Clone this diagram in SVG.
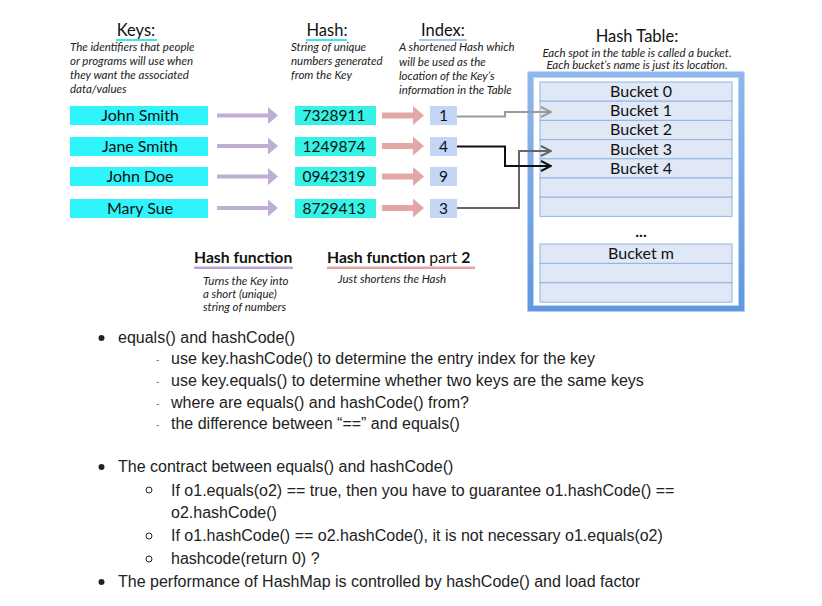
<svg xmlns="http://www.w3.org/2000/svg" width="822" height="606" viewBox="0 0 822 606">
  <defs>
    <style>
      .hd { font-family: Lato, "Noto Sans", sans-serif; font-size: 16.5px; fill: #111; text-anchor: middle; }
      .ds { font-family: Lato, "Noto Sans", sans-serif; font-size: 11.5px; font-style: italic; fill: #222; }
      .bx { font-family: Lato, "Noto Sans", sans-serif; font-size: 16px; fill: #111; text-anchor: middle; }
      .num { font-size: 15.5px; }
      .key { fill: #2ff4fb; }
      .hash { fill: #35f2e6; }
      .idx { fill: #c4d6f8; }
      .cell { fill: #dfe8f4; stroke: #8fb5e4; stroke-width: 1; }
      .fn { font-family: Lato, "Noto Sans", sans-serif; font-size: 15.7px; fill: #111; }
      .bl { font-family: "Liberation Sans", Arial, sans-serif; font-size: 16px; fill: #222; }
      .dash { font-family: "Liberation Sans", Arial, sans-serif; font-size: 10px; fill: #777; }
      .purple { fill: #bfaed4; }
      .pink { fill: #e3a8a6; }
      .link { fill: none; stroke-width: 2; }
    </style>
    <linearGradient id="frameGrad" x1="0" y1="0" x2="0" y2="1">
      <stop offset="0" stop-color="#8fb8ec"/>
      <stop offset="1" stop-color="#5f98de"/>
    </linearGradient>
    <marker id="mGray" viewBox="0 0 12 12" refX="11" refY="6" markerWidth="12" markerHeight="12" markerUnits="userSpaceOnUse" orient="auto">
      <path d="M1,1 L11,6 L1,11" fill="none" stroke="#9a9a9a" stroke-width="2"/>
    </marker>
    <marker id="mBlack" viewBox="0 0 12 12" refX="11" refY="6" markerWidth="12" markerHeight="12" markerUnits="userSpaceOnUse" orient="auto">
      <path d="M1,1 L11,6 L1,11" fill="none" stroke="#111" stroke-width="2"/>
    </marker>
    <marker id="mDark" viewBox="0 0 12 12" refX="11" refY="6" markerWidth="12" markerHeight="12" markerUnits="userSpaceOnUse" orient="auto">
      <path d="M1,1 L11,6 L1,11" fill="none" stroke="#666" stroke-width="2"/>
    </marker>
  </defs>

  <rect width="822" height="606" fill="#ffffff"/>

  <!-- column headings -->
  <g id="keys-heading">
    <text class="hd" x="136" y="36">Keys:</text>
    <rect x="116" y="39" width="41" height="2" fill="#3ee6ea"/>
    <text class="ds" x="70" y="51">The identifiers that people</text>
    <text class="ds" x="70" y="65">or programs will use when</text>
    <text class="ds" x="70" y="79">they want the associated</text>
    <text class="ds" x="70" y="93">data/values</text>
  </g>
  <g id="hash-heading">
    <text class="hd" x="327" y="36">Hash:</text>
    <rect x="306" y="39" width="41" height="2" fill="#3ee6ea"/>
    <text class="ds" x="291" y="51">String of unique</text>
    <text class="ds" x="291" y="65">numbers generated</text>
    <text class="ds" x="291" y="79">from the Key</text>
  </g>
  <g id="index-heading">
    <text class="hd" x="443" y="36">Index:</text>
    <rect x="419" y="39" width="48" height="2" fill="#a9c5f2"/>
    <text class="ds" x="399" y="51">A shortened Hash which</text>
    <text class="ds" x="399" y="66">will be used as the</text>
    <text class="ds" x="399" y="80">location of the Key’s</text>
    <text class="ds" x="399" y="94">information in the Table</text>
  </g>

  <!-- keys -->
  <g id="key-john-smith"><rect class="key" x="70" y="106" width="138" height="19"/><text class="bx" x="140" y="121">John Smith</text></g>
  <g id="key-jane-smith"><rect class="key" x="70" y="137" width="138" height="19"/><text class="bx" x="140" y="152">Jane Smith</text></g>
  <g id="key-john-doe"><rect class="key" x="70" y="167" width="138" height="19"/><text class="bx" x="140" y="182">John Doe</text></g>
  <g id="key-mary-sue"><rect class="key" x="70" y="199" width="138" height="19"/><text class="bx" x="140" y="214">Mary Sue</text></g>

  <!-- hashes -->
  <g id="hash-7328911"><rect class="hash" x="295" y="106" width="81" height="19"/><text class="bx num" x="334" y="121">7328911</text></g>
  <g id="hash-1249874"><rect class="hash" x="295" y="137" width="81" height="19"/><text class="bx num" x="334" y="152">1249874</text></g>
  <g id="hash-0942319"><rect class="hash" x="295" y="167" width="81" height="19"/><text class="bx num" x="334" y="182">0942319</text></g>
  <g id="hash-8729413"><rect class="hash" x="295" y="199" width="81" height="19"/><text class="bx num" x="334" y="214">8729413</text></g>

  <!-- indices -->
  <g id="index-1"><rect class="idx" x="430" y="106" width="27" height="19"/><text class="bx num" x="443.5" y="121">1</text></g>
  <g id="index-4"><rect class="idx" x="430" y="137" width="27" height="19"/><text class="bx num" x="443.5" y="152">4</text></g>
  <g id="index-9"><rect class="idx" x="430" y="167" width="27" height="19"/><text class="bx num" x="443.5" y="182">9</text></g>
  <g id="index-3"><rect class="idx" x="430" y="199" width="27" height="19"/><text class="bx num" x="443.5" y="214">3</text></g>

  <!-- hash table -->
  <g id="hash-table">
    <text class="hd" x="637" y="42" font-size="16">Hash Table:</text>
    <text class="ds" x="637" y="56.5" text-anchor="middle" font-size="10.6">Each spot in the table is called a bucket.</text>
    <text class="ds" x="637" y="69" text-anchor="middle" font-size="10.6">Each bucket’s name is just its location.</text>
    <rect x="530.5" y="74.5" width="211" height="234" fill="#ffffff" stroke="url(#frameGrad)" stroke-width="6"/>
    <rect x="533.5" y="77.5" width="205" height="228" fill="none" stroke="#b8d2f3" stroke-width="1"/>
    <g id="buckets-top">
      <rect class="cell" x="540" y="82" width="192" height="19.2"/>
      <rect class="cell" x="540" y="101.2" width="192" height="19.2"/>
      <rect class="cell" x="540" y="120.4" width="192" height="19.2"/>
      <rect class="cell" x="540" y="139.6" width="192" height="19.2"/>
      <rect class="cell" x="540" y="158.8" width="192" height="19.2"/>
      <rect class="cell" x="540" y="178" width="192" height="19.2"/>
      <rect class="cell" x="540" y="197.2" width="192" height="19.2"/>
      <text class="bx" x="641" y="97">Bucket 0</text>
      <text class="bx" x="641" y="116">Bucket 1</text>
      <text class="bx" x="641" y="135">Bucket 2</text>
      <text class="bx" x="641" y="155">Bucket 3</text>
      <text class="bx" x="641" y="174">Bucket 4</text>
    </g>
    <text class="bx" x="641" y="237" font-size="10" font-weight="bold">...</text>
    <g id="buckets-bottom">
      <rect class="cell" x="540" y="244" width="192" height="19.4"/>
      <rect class="cell" x="540" y="263.4" width="192" height="19.4"/>
      <rect class="cell" x="540" y="282.8" width="192" height="19.4"/>
      <text class="bx" x="641" y="259">Bucket m</text>
    </g>
  </g>

  <!-- connectors -->
  <g id="connectors">
    <!-- key to hash -->
    <polygon class="purple" points="217,113.5 268,113.5 268,107 278,115.5 268,124 268,117.5 217,117.5"/>
    <polygon class="purple" points="217,144 268,144 268,137.5 278,146 268,154.5 268,148 217,148"/>
    <polygon class="purple" points="217,174.5 268,174.5 268,168 278,176.5 268,185 268,178.5 217,178.5"/>
    <polygon class="purple" points="217,206 268,206 268,199.5 278,208 268,216.5 268,210 217,210"/>
    <!-- hash to index -->
    <polygon class="pink" points="382,112.5 413,112.5 413,106 424,115.5 413,125 413,118.5 382,118.5"/>
    <polygon class="pink" points="382,143 413,143 413,136.5 424,146 413,155.5 413,149 382,149"/>
    <polygon class="pink" points="382,173.5 413,173.5 413,167 424,176.5 413,186 413,179.5 382,179.5"/>
    <polygon class="pink" points="382,205 413,205 413,198.5 424,208 413,217.5 413,211 382,211"/>
    <!-- index to bucket -->
    <path class="link" d="M457,116.5 H505 V112 H551" stroke="#9a9a9a" marker-end="url(#mGray)"/>
    <path class="link" d="M457,208 H519 V151 H551" stroke="#666" marker-end="url(#mDark)"/>
    <path class="link" d="M457,146.5 H505 V166 H551" stroke="#111" marker-end="url(#mBlack)"/>
  </g>

  <!-- hash function captions -->
  <g id="hash-function">
    <text class="fn" x="194" y="263" font-weight="bold">Hash function</text>
    <rect x="194" y="266.5" width="99" height="2.5" fill="#b9a6d6"/>
    <text class="ds" x="203" y="285">Turns the Key into</text>
    <text class="ds" x="203" y="298">a short (unique)</text>
    <text class="ds" x="203" y="311">string of numbers</text>
  </g>
  <g id="hash-function-2">
    <text class="fn" x="327" y="263"><tspan font-weight="bold">Hash function</tspan> part <tspan font-weight="bold">2</tspan></text>
    <rect x="327" y="266.5" width="148" height="2.5" fill="#e6a5a5"/>
    <text class="ds" x="338" y="283">Just shortens the Hash</text>
  </g>

  <!-- notes -->
  <g id="notes">
    <circle cx="101.5" cy="338" r="3" fill="#222"/>
    <text class="bl" x="118" y="343">equals() and hashCode()</text>
    <text class="dash" x="156" y="363">-</text>
    <text class="bl" x="171" y="364">use key.hashCode() to determine the entry index for the key</text>
    <text class="dash" x="156" y="385">-</text>
    <text class="bl" x="171" y="386">use key.equals() to determine whether two keys are the same keys</text>
    <text class="dash" x="156" y="407">-</text>
    <text class="bl" x="171" y="408">where are equals() and hashCode() from?</text>
    <text class="dash" x="156" y="428">-</text>
    <text class="bl" x="171" y="429">the difference between “==” and equals()</text>

    <circle cx="101.5" cy="467" r="3" fill="#222"/>
    <text class="bl" x="118" y="472">The contract between equals() and hashCode()</text>
    <circle cx="149" cy="490" r="3" fill="none" stroke="#222" stroke-width="1"/>
    <text class="bl" x="171" y="496">If o1.equals(o2) == true, then you have to guarantee o1.hashCode() ==</text>
    <text class="bl" x="171" y="518">o2.hashCode()</text>
    <circle cx="149" cy="536" r="3" fill="none" stroke="#222" stroke-width="1"/>
    <text class="bl" x="171" y="541">If o1.hashCode() == o2.hashCode(), it is not necessary o1.equals(o2)</text>
    <circle cx="149" cy="559" r="3" fill="none" stroke="#222" stroke-width="1"/>
    <text class="bl" x="171" y="564">hashcode(return 0) ?</text>
    <circle cx="101.5" cy="582" r="3" fill="#222"/>
    <text class="bl" x="118" y="587">The performance of HashMap is controlled by hashCode() and load factor</text>
  </g>
</svg>
